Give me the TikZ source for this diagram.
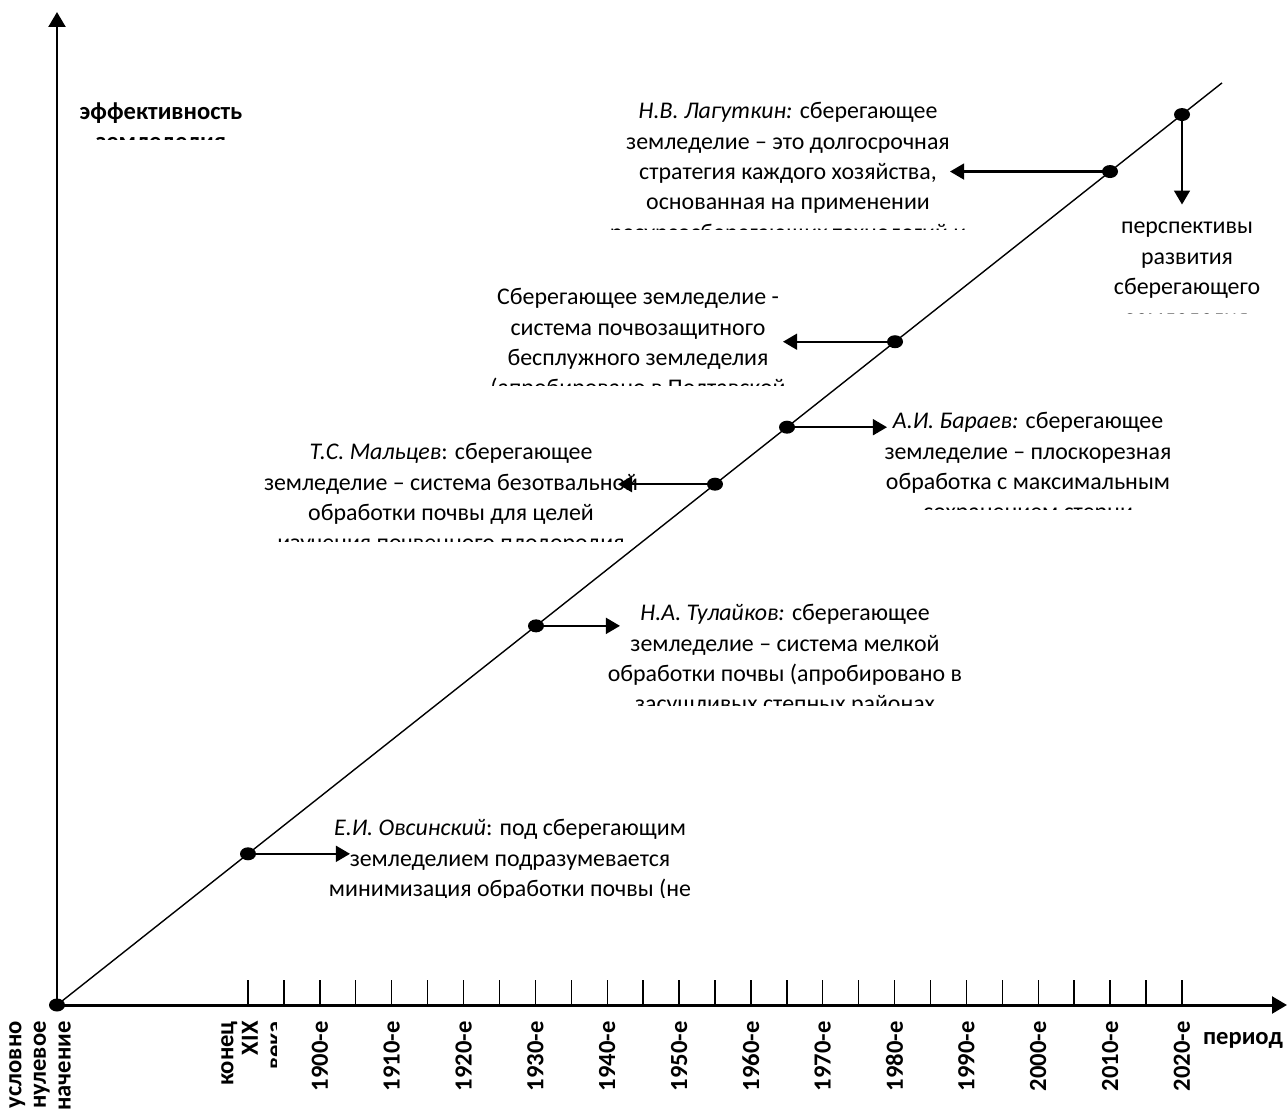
\documentclass[tikz,border=0pt]{standalone}
\usepackage{fontspec}
\setmainfont{Carlito}
\usetikzlibrary{arrows.meta,shapes.geometric}
\tikzset{%
axis/.style={line width=1.7pt,-{Triangle[length=8.5pt,width=9.5pt]}},
trend/.style={line width=0.8pt},
tick/.style={line width=0.8pt},
point/.style={ellipse,fill,inner sep=0pt,minimum width=0.32cm,minimum height=0.26cm},
pointer/.style={line width=1.3pt,-{Triangle[length=8pt,width=9pt]}},
note/.style={align=center,anchor=north,inner sep=0pt,font=\fontsize{13.6}{17.3}\selectfont},
axislabel/.style={inner sep=0pt,font=\fontsize{14}{14}\selectfont\bfseries},
yearlabel/.style={axislabel,rotate=90,anchor=east,align=right}
}

\begin{document}
\begin{tikzpicture}[x=0.02cm,y=-0.02cm]
\useasboundingbox (0,0) rectangle (1287,1111);

\coordinate (o)     at (57,1005);
\coordinate (ytop)  at (57,12);
\coordinate (xend)  at (1287,1005);
\coordinate (tend)  at (1222,{1005-0.7915*1165});

% axes
\draw[axis] (o) -- (ytop);
\draw[axis] (o) -- (xend);
\foreach \i in {0,...,26}
  \draw[tick] ({248+35.92*\i},1005) -- ++(0,-25);

% trend line and its points
\draw[trend] (o) -- (tend);
\node[point] (p0) at (o) {};
\foreach \n/\x in {p1/248, p8/536, p13/715, p15/787, p18/895, p24/1110, p26/1182}
  \node[point] (\n) at (\x,{1005-0.7915*(\x-57)}) {};

\draw[pointer] (p1.center)  -- ++(102,0) coordinate (a1);
\draw[pointer] (p8.center)  -- ++(84,0)  coordinate (a8);
\draw[pointer] (p13.center) -- ++(-97,0) coordinate (a13);
\draw[pointer] (p15.center) -- ++(100,0) coordinate (a15);
\draw[pointer] (p18.center) -- ++(-112,0) coordinate (a18);
\draw[pointer] (p24.center) -- ++(-160,0) coordinate (a24);
\draw[pointer] (p26.center) -- ++(0,90)  coordinate (a26);

% axis labels
\begin{scope}
\clip (60,90) rectangle (280,140);
\node[axislabel,align=center,anchor=north,font=\fontsize{14}{17.3}\selectfont\bfseries] (effect) at (161,102) {эффективность\\земледелия};
\end{scope}
\node[axislabel] (period) at (1243,1040) {период};
\node[yearlabel] (zero) at (40,1021) {условно\\нулевое\\значение};
\begin{scope}
\clip (200,1010) rectangle (276,1111);
\node[yearlabel] (late19) at (252,1021) {конец\\XIX\\века};
\end{scope}
\foreach \i in {2,4,...,26}{
  \pgfmathtruncatemacro{\yr}{1900+5*(\i-2)}
  \node[yearlabel] (y\yr) at ({248+35.92*\i},1021) {\yr-е};
}

% statements
\begin{scope}
\clip (560,90) rectangle (1030,230);
\node[note] (lagutkin) at (788,102) {\textit{Н.В. Лагуткин:} сберегающее\\земледелие – это долгосрочная\\стратегия каждого хозяйства,\\основанная на применении\\ресурсосберегающих технологий и};
\end{scope}
\begin{scope}
\clip (1080,205) rectangle (1287,314);
\node[note] (prospect) at (1187,222) {перспективы\\развития\\сберегающего\\земледелия};
\end{scope}
\begin{scope}
\clip (470,280) rectangle (810,385);
\node[note] (soilprot) at (638,288) {Сберегающее земледелие -\\система почвозащитного\\бесплужного земледелия\\(апробировано в Полтавской};
\end{scope}
\begin{scope}
\clip (850,400) rectangle (1210,509);
\node[note] (baraev) at (1028,412) {\textit{А.И. Бараев:} сберегающее\\земледелие – плоскорезная\\обработка с максимальным\\сохранением стерни};
\end{scope}
\begin{scope}
\clip (240,430) rectangle (660,541);
\node[note] (maltsev) at (451,443) {\textit{Т.С. Мальцев}: сберегающее\\земледелие – система безотвальной\\обработки почвы для целей\\изучения почвенного плодородия};
\end{scope}
\begin{scope}
\clip (590,590) rectangle (990,705);
\node[note] (tulaikov) at (785,604) {\textit{Н.А. Тулайков:} сберегающее\\земледелие – система мелкой\\обработки почвы (апробировано в\\засушливых степных районах};
\end{scope}
\begin{scope}
\clip (300,805) rectangle (720,897);
\node[note] (ovsinsky) at (510,819) {\textit{Е.И. Овсинский}: под сберегающим\\земледелием подразумевается\\минимизация обработки почвы (не};
\end{scope}
\end{tikzpicture}
\end{document}
